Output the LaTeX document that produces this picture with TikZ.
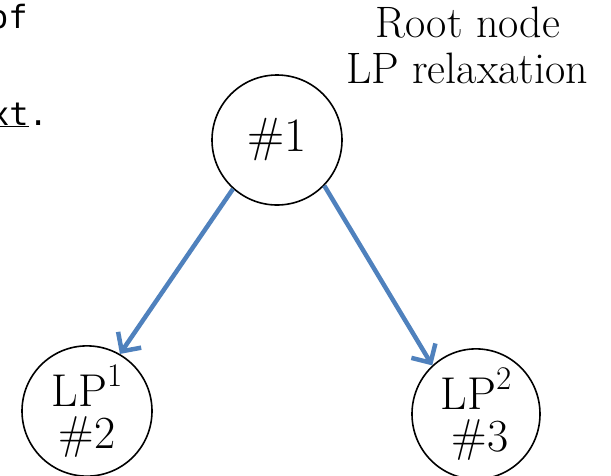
\documentclass[tikz,border=0pt]{standalone}
\usepackage{fix-cm}
\usepackage{fontspec}
\newfontfamily\monofont{DejaVu Sans Mono}
\usetikzlibrary{arrows.meta,shapes.geometric}
\definecolor{arrowblue}{RGB}{79,129,189}
\newcommand{\supnum}[1]{\raisebox{0.42em}{\fontsize{33}{33}\selectfont #1}}
\begin{document}
\begin{tikzpicture}[x=1pt,y=-1pt,
  circ/.style={draw, line width=1.6pt, ellipse, inner sep=0pt, align=center},
  conn/.style={draw=arrowblue, line width=4.5pt,
    -{Straight Barb[length=14pt,width=28pt]}},
  big/.style={font=\fontsize{44}{46}\selectfont, inner sep=0pt, anchor=base},
  mono/.style={font=\monofont\fontsize{32}{32}\selectfont, inner sep=0pt, anchor=base west}]
\useasboundingbox (0,0) rectangle (611,475);
\clip (0,0) rectangle (611,475);
% fragments of slide text
\node[mono] (frag1) at (-11,28) {of};
\node[mono] (frag2) at (-10,125) {\underline{xt}.};
% label
\node[big] (lblA) at (468,37) {Root node};
\node[big] (lblB) at (467,83) {LP relaxation};
% nodes
\node[circ, minimum width=130pt, minimum height=130pt,
  font=\fontsize{48}{50}\selectfont] (root) at (277,140) {\#1};
\node[circ, minimum width=130pt, minimum height=126pt,
  font=\fontsize{46}{42}\selectfont] (lp1) at (87,411) {LP\supnum{1}\\\#2};
\node[circ, minimum width=128pt, minimum height=118pt,
  font=\fontsize{46}{42}\selectfont] (lp2) at (476,414) {LP\supnum{2}\\\hspace*{8pt}\#3};
% connectors
\draw[conn] (root.228) -- (lp1.60);
\draw[conn] (root.316) -- (lp2.132);
\end{tikzpicture}
\end{document}
